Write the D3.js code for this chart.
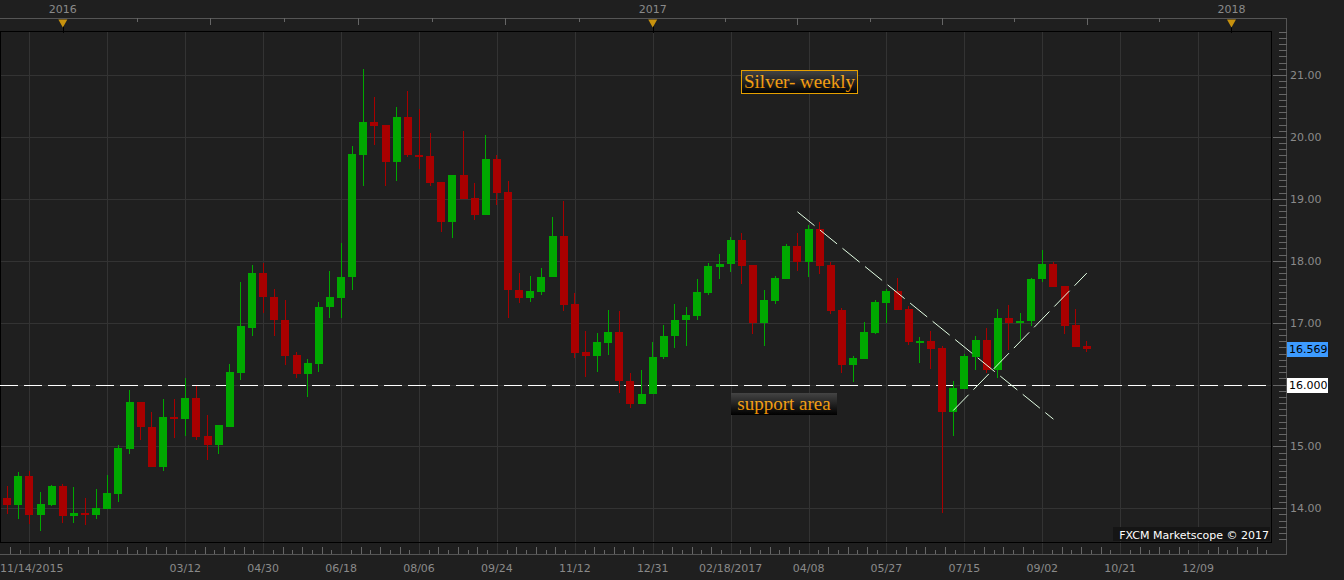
<!DOCTYPE html>
<html><head><meta charset="utf-8">
<script src="https://cdn.jsdelivr.net/npm/d3@7"></script>
<style>html,body{margin:0;padding:0;background:#1f1f1f;overflow:hidden}svg{display:block}</style>
</head><body>
<script>
// ---- data (weekly XAG/USD candles, first week 2015-11-21) ----
const firstWeek = "2015-11-21";
const open  = [14.16,14.05,14.52,13.89,14.05,14.36,13.88,13.92,13.89,13.99,14.23,14.95,15.71,15.32,14.66,15.47,15.45,15.78,15.16,15.02,15.32,16.18,16.92,17.80,17.42,17.05,16.47,16.17,16.33,17.25,17.39,17.73,19.71,20.24,20.19,19.60,20.32,19.71,19.69,19.27,18.63,19.38,19.01,18.74,19.64,19.11,17.53,17.39,17.50,17.73,18.40,17.30,16.52,16.46,16.67,16.85,16.06,15.68,15.84,16.44,16.78,17.04,17.11,17.48,17.90,17.94,18.34,17.93,16.99,17.35,17.71,18.24,17.98,18.51,17.93,17.20,16.32,16.42,16.84,17.32,17.51,17.22,16.68,16.70,16.59,15.56,15.92,16.45,16.72,16.24,17.08,17.00,17.02,17.70,17.95,17.59,16.96,16.62];
const high  = [14.36,14.58,14.61,14.27,14.37,14.39,14.34,14.16,14.31,14.53,15.02,15.91,15.71,15.55,15.76,15.76,16.10,15.97,15.50,15.34,16.33,17.65,17.93,17.97,17.54,17.36,16.52,16.41,17.33,17.83,18.29,19.85,21.10,20.64,20.19,20.48,20.74,20.45,20.06,19.27,19.38,20.10,19.26,20.03,19.71,19.29,17.80,17.75,17.88,18.71,18.96,17.48,16.86,16.83,17.20,17.18,16.18,16.24,16.68,16.96,17.30,17.25,17.70,17.96,18.11,18.38,18.45,17.93,17.52,17.75,18.27,18.45,18.58,18.63,17.98,17.23,16.46,17.01,17.37,17.55,17.72,17.27,16.77,16.86,16.62,16.05,16.49,16.78,16.91,17.22,17.29,17.16,17.72,18.18,17.98,17.59,17.22,16.70];
const low   = [13.90,13.83,13.75,13.63,14.03,13.76,13.77,13.73,13.82,13.99,14.10,14.87,15.11,14.66,14.60,15.13,15.16,15.10,14.78,14.87,15.32,16.08,16.78,17.15,16.79,16.31,16.10,15.79,16.21,17.08,17.08,17.52,19.21,19.87,19.21,19.29,19.68,19.48,19.21,18.47,18.37,19.00,18.65,18.74,18.90,17.08,17.31,17.34,17.45,17.73,17.18,16.43,16.12,16.20,16.47,15.86,15.62,15.68,15.84,16.41,16.59,16.62,17.04,17.45,17.71,17.82,17.63,16.82,16.62,17.30,17.71,17.84,17.74,17.79,17.14,16.18,16.04,16.42,16.82,17.00,17.21,16.64,16.35,16.25,13.92,15.17,15.92,16.24,16.19,16.11,16.55,16.72,16.95,17.66,17.58,16.82,16.61,16.53];
const close = [14.05,14.52,13.89,14.07,14.36,13.87,13.92,13.89,14.00,14.24,14.97,15.71,15.31,14.66,15.47,15.46,15.78,15.15,15.02,15.34,16.20,16.94,17.80,17.41,17.04,16.46,16.17,16.34,17.26,17.41,17.74,19.72,20.24,20.18,19.60,20.32,19.70,19.68,19.26,18.63,19.38,19.00,18.74,19.64,19.10,17.52,17.39,17.51,17.74,18.40,17.29,16.51,16.46,16.68,16.85,16.05,15.68,15.85,16.45,16.79,17.05,17.12,17.49,17.91,17.95,18.34,17.92,16.99,17.36,17.72,18.24,17.98,18.51,17.92,17.19,16.32,16.43,16.85,17.34,17.51,17.21,16.68,16.70,16.58,15.56,15.94,16.46,16.72,16.24,17.08,17.00,17.03,17.71,17.95,17.58,16.95,16.61,16.57];

const priceTicks = [14,15,16,17,18,19,20,21];
const xTickDates  = ["2015-11-14","2016-03-12","2016-04-30","2016-06-18","2016-08-06","2016-09-24","2016-11-12","2016-12-31","2017-02-18","2017-04-08","2017-05-27","2017-07-15","2017-09-02","2017-10-21","2017-12-09"];
const xTickLabels = ["11/14/2015","03/12","04/30","06/18","08/06","09/24","11/12","12/31","02/18/2017","04/08","05/27","07/15","09/02","10/21","12/09"];
const gridDates   = ["2015-12-05","2016-01-23","2016-03-12","2016-04-30","2016-06-18","2016-08-06","2016-09-24","2016-11-12","2016-12-31","2017-02-18","2017-04-08","2017-05-27","2017-07-15","2017-09-02","2017-10-21","2017-12-09"];
const yearLabels  = ["2016","2017","2018"];
const yearDates   = ["2015-12-26","2016-12-31","2017-12-30"];
const supportLevel = 16.0;
const lastPrice = 16.569;
const trendDown = [["2017-04-01",18.79],["2017-09-09",15.44]];
const trendUp   = [["2017-07-08",15.58],["2017-09-30",17.80]];
const titleText = "Silver- weekly";
const supportText = "support area";
const creditText = "FXCM Marketscope © 2017";

// ---- layout ----
const W = 1344, H = 580;
const plot = {l:0, r:1271, t:31, b:542};
const axisX = 1286.5;
const parse = d3.utcParse("%Y-%m-%d");
const weeks = open.map((_, i) => d3.utcWeek.offset(parse(firstWeek), i));

const x = d3.scaleUtc().domain([parse("2015-11-21"), parse("2017-12-09")]).range([7.2, 1198.1]);
const y = d3.scaleLinear().domain([14, 21]).range([508.3, 75]);

const svg = d3.select("body").append("svg").attr("width", W).attr("height", H);
const defs = svg.append("defs");
defs.append("clipPath").attr("id","clip").append("rect")
  .attr("x", plot.l).attr("y", plot.t).attr("width", plot.r - plot.l).attr("height", plot.b - plot.t);
const g1 = defs.append("linearGradient").attr("id","boxg").attr("x1",0).attr("y1",0).attr("x2",0).attr("y2",1);
g1.append("stop").attr("offset","0%").attr("stop-color","#444");
g1.append("stop").attr("offset","100%").attr("stop-color","#000");
const g2 = defs.append("linearGradient").attr("id","txtg").attr("x1",0).attr("y1",0).attr("x2",0).attr("y2",1);
g2.append("stop").attr("offset","0%").attr("stop-color","#ffb82a");
g2.append("stop").attr("offset","100%").attr("stop-color","#e88a00");

svg.append("rect").attr("width", W).attr("height", H).attr("fill", "#1f1f1f");

const crisp = v => Math.round(v) + 0.5;
const font = "DejaVu Sans, Verdana, sans-serif";

// grid
const grid = svg.append("g").attr("shape-rendering","crispEdges").attr("stroke","#333").attr("stroke-width",1);
priceTicks.forEach(v => grid.append("line").attr("x1", plot.l).attr("x2", plot.r).attr("y1", crisp(y(v))).attr("y2", crisp(y(v))));
gridDates.forEach(d => {
  const xx = x(parse(d));
  if (xx < plot.r) grid.append("line").attr("x1", crisp(xx)).attr("x2", crisp(xx)).attr("y1", plot.t).attr("y2", 554);
});

// plot border
svg.append("rect").attr("x", 0.5).attr("y", plot.t + 0.5).attr("width", plot.r - 0.5).attr("height", plot.b - plot.t)
  .attr("fill","none").attr("stroke","#000").attr("shape-rendering","crispEdges");

// bottom time axis
const bax = svg.append("g").attr("shape-rendering","crispEdges");
bax.append("line").attr("x1",0).attr("x2",axisX).attr("y1",554.5).attr("y2",554.5).attr("stroke","#555");
const gx = gridDates.map(d => x(parse(d)));
const step = (gx[1] - gx[0]) / 8;
for (let t = gx[0] - 8*step; t < plot.r; t += step) {
  const j = Math.round((t - gx[0]) / step);
  const m = ((j % 8) + 8) % 8;
  if (m === 0 || t < 1) continue;
  const len = (m % 2 === 0) ? 7 : 4;
  bax.append("line").attr("x1", crisp(t)).attr("x2", crisp(t)).attr("y1", 554).attr("y2", 554 - len).attr("stroke","#666");
}
xTickDates.forEach((d, i) => {
  const xx = x(parse(d));
  const first = i === 0;
  svg.append("text").attr("x", first ? 0 : xx).attr("y", 572)
    .attr("text-anchor", first ? "start" : "middle")
    .attr("font-family", font).attr("font-size", 11).attr("fill", "#8a8a8a").text(xTickLabels[i]);
});

// top year axis
const tax = svg.append("g").attr("shape-rendering","crispEdges");
tax.append("line").attr("x1",0).attr("x2",axisX).attr("y1",18.5).attr("y2",18.5).attr("stroke","#555");
const yx = yearDates.map(d => x(parse(d)));
for (let i = 0; i < yx.length - 1; i++) {
  const s = (yx[i+1] - yx[i]) / 8;
  for (let j = 1; j < 8; j++) {
    const t = yx[i] + j*s;
    tax.append("line").attr("x1", crisp(t)).attr("x2", crisp(t)).attr("y1", 18).attr("y2", j % 2 === 0 ? 25 : 22).attr("stroke","#666");
  }
}
yearLabels.forEach((lab, i) => {
  const xx = yx[i];
  svg.append("text").attr("x", xx).attr("y", 13).attr("text-anchor","middle")
    .attr("font-family", font).attr("font-size", 11).attr("fill", "#8a8a8a").text(lab);
  svg.append("line").attr("x1", crisp(xx)).attr("x2", crisp(xx)).attr("y1", 26).attr("y2", 33).attr("stroke","#000").attr("shape-rendering","crispEdges");
  svg.append("path").attr("d", `M${xx-4.5},19.5 L${xx+4.5},19.5 L${xx},27.5 Z`).attr("fill","#c8920e");
});

// right price axis
const rax = svg.append("g").attr("shape-rendering","crispEdges");
rax.append("line").attr("x1",axisX).attr("x2",axisX).attr("y1",18).attr("y2",554.5).attr("stroke","#555");
const yMin = y.invert(plot.b), yMax = y.invert(plot.t);
for (let v = Math.ceil(yMin*10); v <= Math.floor(yMax*10); v++) {
  const major = v % 10 === 0;
  rax.append("line").attr("x1", major ? 1273 : 1279).attr("x2", axisX).attr("y1", crisp(y(v/10))).attr("y2", crisp(y(v/10))).attr("stroke","#666");
}
// the 16.00 tick label is hidden behind the support-level tag, as in the reference
priceTicks.filter(v => v !== supportLevel).forEach(v => {
  svg.append("text").attr("x", 1290).attr("y", y(v) + 4).attr("font-family", font).attr("font-size", 11)
    .attr("fill","#8a8a8a").text(d3.format(".2f")(v));
});

// plot content
const P = svg.append("g").attr("clip-path","url(#clip)");

// support line
P.append("line").attr("x1", 0).attr("x2", plot.r).attr("y1", crisp(y(supportLevel))).attr("y2", crisp(y(supportLevel)))
  .attr("stroke","#fff").attr("stroke-width",1.2).attr("stroke-dasharray","18,6");

// candles
const C = P.append("g").attr("shape-rendering","crispEdges");
weeks.forEach((d, i) => {
  const cx = x(d);
  const up = close[i] >= open[i];
  const col = up ? "#00a800" : "#a80000";
  C.append("rect").attr("x", Math.floor(cx)).attr("width", 1)
    .attr("y", Math.round(y(high[i]))).attr("height", Math.max(1, Math.round(y(low[i])) - Math.round(y(high[i]))))
    .attr("fill", col);
  const top = Math.round(y(Math.max(open[i], close[i])));
  const bot = Math.round(y(Math.min(open[i], close[i])));
  C.append("rect").attr("x", Math.round(cx - 4)).attr("width", 8)
    .attr("y", top).attr("height", Math.max(2, bot - top)).attr("fill", col);
});

// trend lines
[trendDown, trendUp].forEach(tl => {
  P.append("line")
    .attr("x1", x(parse(tl[0][0]))).attr("y1", y(tl[0][1]))
    .attr("x2", x(parse(tl[1][0]))).attr("y2", y(tl[1][1]))
    .attr("stroke","#e4ffe4").attr("stroke-width",1).attr("stroke-dasharray","22,7");
});

// title box
const tb = svg.append("g");
tb.append("rect").attr("x", 741.5).attr("y", 70.5).attr("width", 116).attr("height", 23)
  .attr("fill","url(#boxg)").attr("stroke","#e6a000").attr("stroke-width",1);
tb.append("text").attr("x", 799.5).attr("y", 88).attr("text-anchor","middle")
  .attr("font-family","Liberation Serif, Times New Roman, serif").attr("font-size", 19)
  .attr("fill","url(#txtg)").text(titleText);

// support label
const sb = svg.append("g");
sb.append("rect").attr("x", 731).attr("y", 393).attr("width", 106).attr("height", 22).attr("fill","url(#boxg)");
sb.append("text").attr("x", 784).attr("y", 410).attr("text-anchor","middle")
  .attr("font-family","Liberation Serif, Times New Roman, serif").attr("font-size", 19)
  .attr("fill","url(#txtg)").text(supportText);

// credit
svg.append("rect").attr("x", 1113).attr("y", 527).attr("width", 157).attr("height", 14).attr("fill","#151515");
svg.append("text").attr("x", 1269).attr("y", 539).attr("text-anchor","end")
  .attr("font-family", font).attr("font-size", 11).attr("fill","#fff").text(creditText);

// price labels on axis
function priceTag(v, bg) {
  const yy = y(v);
  svg.append("rect").attr("x", 1287).attr("y", Math.round(yy) - 7).attr("width", 41).attr("height", 15).attr("fill", bg);
  svg.append("text").attr("x", 1289).attr("y", yy + 4).attr("font-family", font).attr("font-size", 11)
    .attr("fill", "#000").text(d3.format(".3f")(v));
}
priceTag(lastPrice, "#3d9bff");
priceTag(supportLevel, "#ffffff");
</script>
</body></html>
